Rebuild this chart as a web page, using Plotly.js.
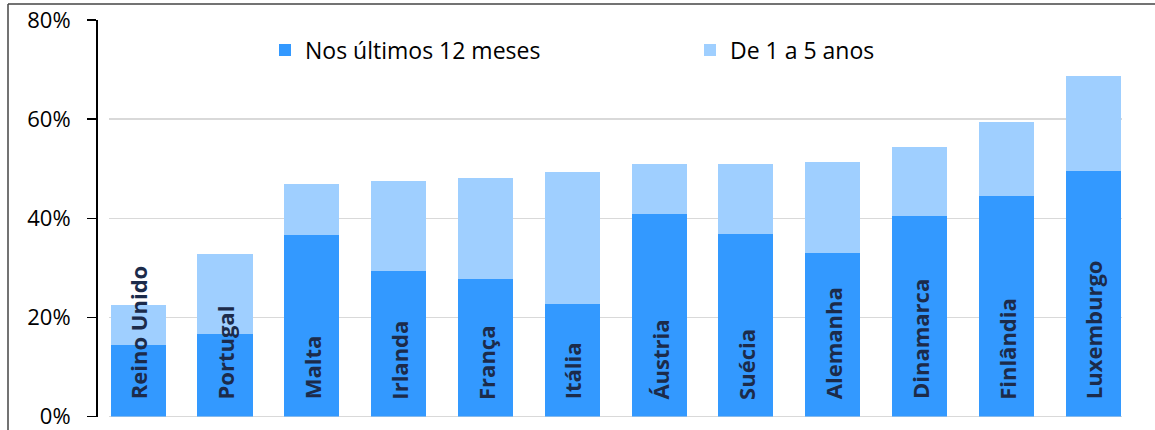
<!DOCTYPE html>
<html>
<head>
<meta charset="utf-8">
<script src="https://cdn.plot.ly/plotly-3.0.1.min.js"></script>
<style>html,body{margin:0;padding:0;background:#fff;}#chart{width:1155px;height:430px;}</style>
</head>
<body>
<div id="chart"></div>
<script>
const countries = ["Reino Unido","Portugal","Malta","Irlanda","França","Itália","Áustria","Suécia","Alemanha","Dinamarca","Finlândia","Luxemburgo"];
const last12 = [0.144,0.166,0.367,0.294,0.277,0.228,0.409,0.369,0.330,0.405,0.445,0.496];
const total = [0.224,0.328,0.469,0.476,0.482,0.493,0.509,0.509,0.514,0.544,0.594,0.688];
const oneToFive = total.map((t,i)=>+(t-last12[i]).toFixed(3));
const seriesNames = ["Nos últimos 12 meses","De 1 a 5 anos"];
const yTicks = [0,0.2,0.4,0.6,0.8];
const yTickLabels = ["0%","20%","40%","60%","80%"];

const W = 1155, H = 430;
const traces = [
  {type:"bar", name:seriesNames[0], x:countries, y:last12, marker:{color:"#3399ff"}, width:0.634, hoverinfo:"none"},
  {type:"bar", name:seriesNames[1], x:countries, y:oneToFive, marker:{color:"#9fcfff"}, width:0.634, hoverinfo:"none"}
];
const annotations = countries.map(c=>({
  x:c, y:0, xref:"x", yref:"y", text:"<b>"+c+"</b>", textangle:-90,
  showarrow:false, xanchor:"center", yanchor:"bottom", yshift:15,
  font:{family:"Open Sans", size:22, color:"#1c2b4a"}
}));
const layout = {
  width:W, height:H, margin:{l:0,r:0,t:0,b:0},
  paper_bgcolor:"#fff", plot_bgcolor:"#fff",
  barmode:"stack", showlegend:true,
  font:{family:"Open Sans", size:23, color:"#000"},
  xaxis:{domain:[109/W,1122/W], range:[-0.336,11.332], showticklabels:false, ticks:"", showgrid:false, zeroline:false, showline:false, fixedrange:true},
  yaxis:{domain:[(H-416.5)/H,(H-20)/H], range:[0,0.8], anchor:"free", position:96/W,
    tickvals:yTicks, ticktext:yTickLabels, ticks:"outside", ticklen:9, tickwidth:1.5, tickcolor:"#000",
    showline:true, linecolor:"#000", linewidth:1.5, showgrid:true, gridcolor:"#d9d9d9", gridwidth:1.5,
    zeroline:true, zerolinecolor:"#d9d9d9", zerolinewidth:1.5, ticklabelstandoff:12, ticklabeloverflow:"allow",
    tickfont:{family:"Open Sans", size:22, color:"#000"}, fixedrange:true},
  legend:{orientation:"h", x:265/W, xanchor:"left", y:1-50/H, yanchor:"middle", entrywidth:380, entrywidthmode:"pixels",
    font:{family:"Open Sans", size:23, color:"#000"}, bgcolor:"rgba(0,0,0,0)", traceorder:"normal"},
  annotations:annotations,
  shapes:[
    {type:"line", xref:"paper", yref:"paper", x0:8/W, x1:1, y0:1-4/H, y1:1-4/H, line:{color:"#444", width:1.5}},
    {type:"line", xref:"paper", yref:"paper", x0:8/W, x1:8/W, y0:0, y1:1-4/H, line:{color:"#444", width:1.5}}
  ]
};
Plotly.newPlot("chart", traces, layout, {displayModeBar:false, staticPlot:true});
</script>
</body>
</html>
